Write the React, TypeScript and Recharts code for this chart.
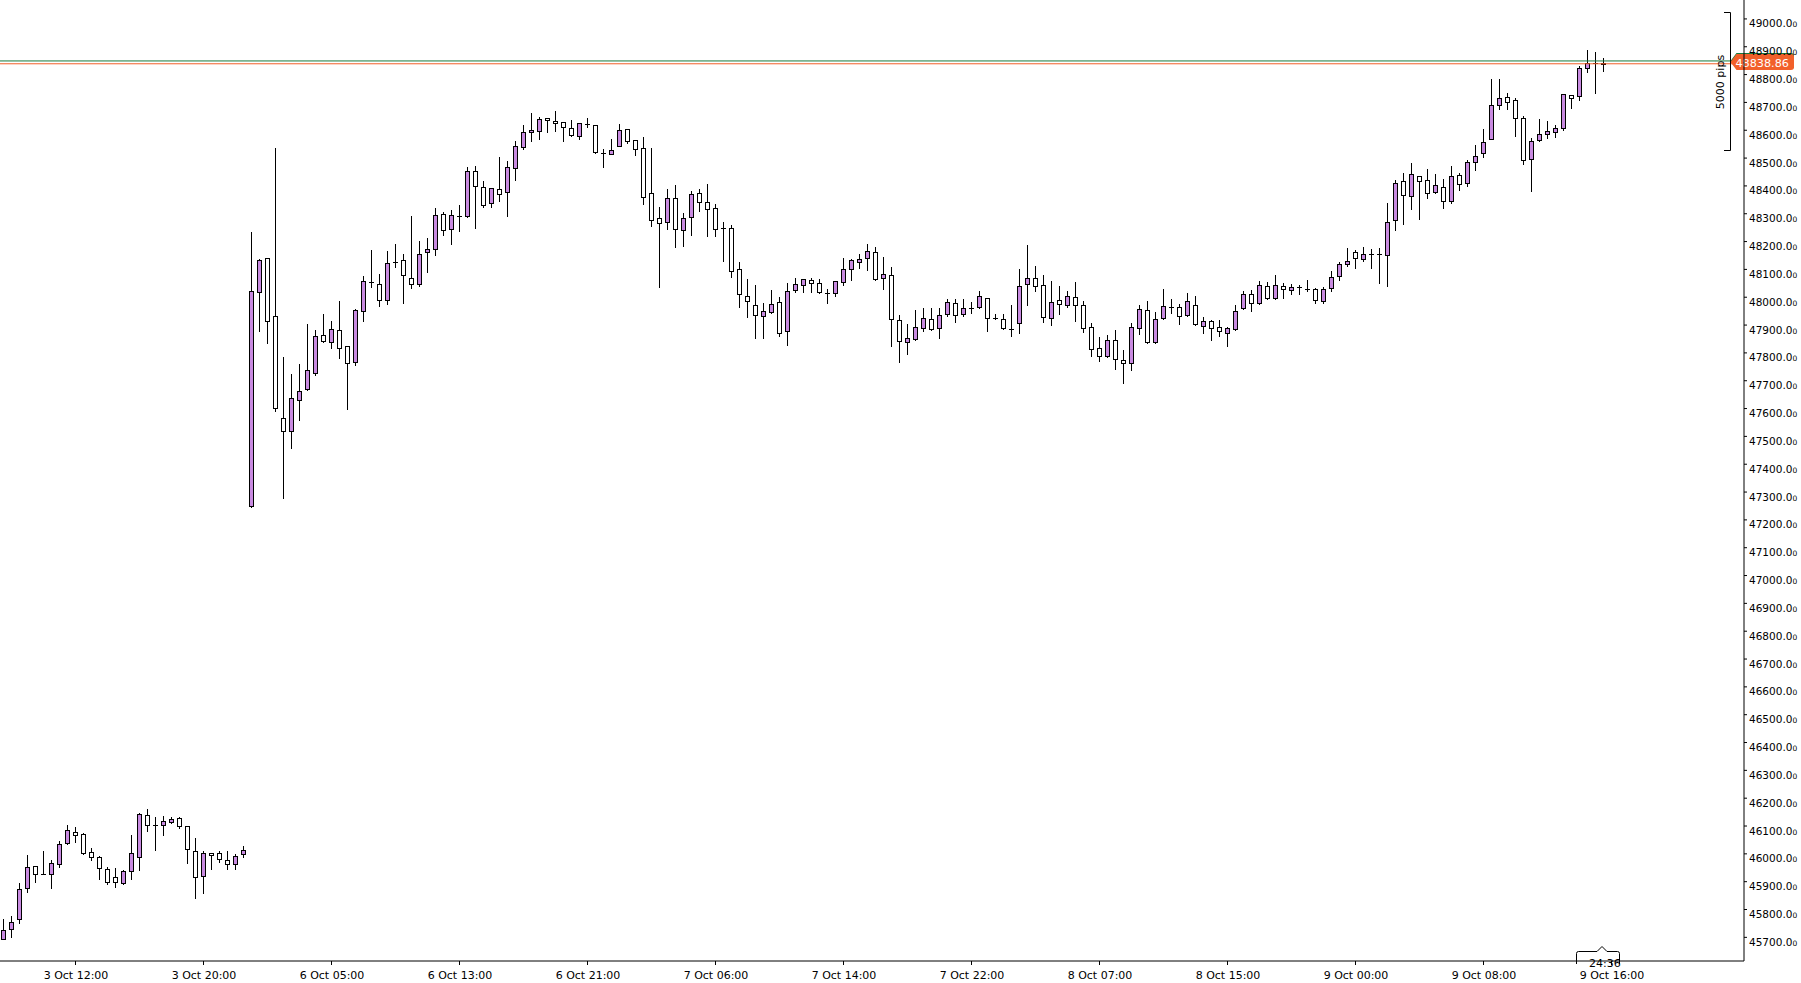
import { Bar, ComposedChart, ReferenceLine, XAxis, YAxis } from 'recharts'

const opens = [
  45695, 45729, 45765, 45876, 45955, 45927, 45927, 45964, 46038, 46078,
  46072, 46006, 45988, 45945, 45918, 45894, 45937, 45988, 46139, 46104,
  46103, 46116, 46128, 46099, 46012, 45919, 46002, 46003, 45977, 45963,
  45998, 47249, 48018, 48140, 47932, 47565, 47518, 47630, 47669, 47726,
  47863, 47838, 47881, 47824, 47766, 47950, 48054, 48047, 47989, 48126,
  48133, 48068, 48047, 48162, 48172, 48298, 48244, 48291, 48291, 48453,
  48395, 48338, 48388, 48377, 48463, 48539, 48593, 48596, 48643, 48632,
  48629, 48607, 48578, 48622, 48618, 48518, 48514, 48542, 48604, 48564,
  48535, 48374, 48284, 48269, 48356, 48241, 48287, 48374, 48341, 48320,
  48248, 48248, 48101, 48004, 47971, 47932, 47946, 47982, 47878, 48025,
  48043, 48061, 48050, 48014, 48014, 48054, 48101, 48126, 48140, 48162,
  48068, 48079, 47917, 47838, 47849, 47889, 47921, 47889, 47939, 47978,
  47939, 47960, 47964, 47996, 47924, 47921, 47885, 47906, 48047, 48068,
  48043, 47924, 47989, 47971, 48000, 47971, 47892, 47817, 47790, 47845,
  47774, 47763, 47889, 47953, 47838, 47925, 47964, 47964, 47935, 47971,
  47896, 47914, 47892, 47871, 47885, 47960, 48011, 47978, 48040, 47996,
  48040, 48025, 48036, 48029, 48029, 47988, 48032, 48075, 48119, 48162,
  48137, 48154, 48154, 48151, 48277, 48417, 48363, 48435, 48420, 48377,
  48395, 48344, 48438, 48410, 48485, 48517, 48570, 48690, 48719, 48708,
  48643, 48496, 48564, 48586, 48593, 48607, 48726, 48722, 48823, 48840, 48840,
]

const highs = [
  45765, 45777, 45894, 45995, 45958, 46010, 45978, 46046, 46104, 46097,
  46074, 46020, 45992, 45951, 45948, 45942, 46068, 46145, 46160, 46134,
  46136, 46134, 46131, 46100, 46056, 46012, 46004, 46012, 46010, 45998,
  46028, 48234, 48138, 48142, 48535, 47784, 47724, 47760, 47903, 47881,
  47939, 47914, 47986, 47826, 47957, 48078, 48168, 48084, 48166, 48192,
  48154, 48291, 48201, 48212, 48320, 48305, 48313, 48331, 48467, 48471,
  48417, 48393, 48503, 48489, 48560, 48618, 48661, 48647, 48645, 48668,
  48630, 48636, 48626, 48643, 48620, 48532, 48568, 48622, 48605, 48565,
  48575, 48535, 48323, 48388, 48402, 48302, 48381, 48388, 48406, 48334,
  48269, 48259, 48126, 48065, 48043, 47978, 48025, 48000, 48050, 48068,
  48065, 48068, 48065, 48029, 48058, 48140, 48136, 48154, 48190, 48180,
  48144, 48108, 47935, 47903, 47953, 47960, 47960, 47960, 47993, 47993,
  47993, 47982, 48021, 47998, 47939, 47939, 47971, 48101, 48187, 48111,
  48079, 48057, 48039, 48021, 48054, 47986, 47906, 47856, 47863, 47881,
  47810, 47907, 47971, 47986, 47946, 48029, 47993, 47975, 48014, 48004,
  47928, 47917, 47917, 47892, 47971, 48022, 48025, 48057, 48054, 48079,
  48050, 48047, 48043, 48061, 48033, 48035, 48093, 48126, 48176, 48169,
  48180, 48172, 48176, 48338, 48420, 48446, 48481, 48436, 48460, 48442,
  48424, 48471, 48445, 48492, 48546, 48604, 48783, 48783, 48733, 48715,
  48650, 48571, 48640, 48634, 48618, 48730, 48727, 48830, 48889, 48881, 48859,
]

const lows = [
  45693, 45703, 45753, 45864, 45900, 45926, 45879, 45954, 46034, 46042,
  46000, 45978, 45911, 45891, 45882, 45892, 45911, 45942, 46082, 46015,
  46069, 46110, 46094, 45966, 45843, 45858, 45945, 45971, 45945, 45945,
  45990, 47247, 47880, 47837, 47593, 47280, 47460, 47560, 47668, 47722,
  47838, 47819, 47783, 47598, 47758, 47916, 48035, 47970, 47975, 48108,
  47981, 48032, 48039, 48090, 48151, 48223, 48190, 48237, 48287, 48248,
  48323, 48323, 48345, 48291, 48420, 48532, 48560, 48568, 48593, 48596,
  48560, 48580, 48568, 48611, 48517, 48469, 48513, 48542, 48553, 48510,
  48334, 48255, 48036, 48244, 48180, 48183, 48223, 48309, 48219, 48219,
  48129, 48072, 47964, 47928, 47853, 47853, 47945, 47859, 47830, 48018,
  48018, 48018, 48017, 47978, 48004, 48043, 48061, 48104, 48097, 48061,
  48029, 47826, 47769, 47795, 47848, 47878, 47881, 47853, 47932, 47910,
  47932, 47942, 47960, 47878, 47921, 47885, 47860, 47871, 47971, 48021,
  47910, 47899, 47939, 47964, 47914, 47874, 47788, 47770, 47787, 47741,
  47691, 47738, 47867, 47837, 47837, 47923, 47943, 47903, 47932, 47902,
  47871, 47845, 47860, 47824, 47881, 47959, 47950, 47977, 47995, 47993,
  47996, 48011, 48011, 48022, 47978, 47980, 48022, 48061, 48111, 48104,
  48129, 48104, 48050, 48039, 48241, 48262, 48316, 48280, 48356, 48376,
  48320, 48340, 48384, 48399, 48456, 48503, 48568, 48675, 48675, 48581,
  48478, 48383, 48560, 48571, 48575, 48600, 48681, 48708, 48808, 48733, 48814,
]

const closes = [
  45727, 45754, 45873, 45952, 45927, 45927, 45966, 46034, 46085, 46067,
  46002, 45988, 45948, 45900, 45898, 45939, 46002, 46142, 46104, 46104,
  46119, 46127, 46101, 46016, 45916, 46002, 45995, 45981, 45963, 45994,
  46013, 48022, 48133, 47914, 47601, 47518, 47637, 47662, 47738, 47860,
  47842, 47885, 47817, 47763, 47953, 48057, 48054, 47989, 48122, 48126,
  48079, 48047, 48154, 48172, 48295, 48241, 48295, 48291, 48453, 48399,
  48331, 48392, 48370, 48467, 48543, 48593, 48600, 48640, 48636, 48625,
  48611, 48582, 48625, 48622, 48521, 48518, 48528, 48600, 48560, 48532,
  48359, 48277, 48266, 48356, 48244, 48284, 48370, 48341, 48316, 48244,
  48248, 48093, 48011, 47986, 47935, 47950, 47975, 47871, 48021, 48047,
  48065, 48050, 48018, 48014, 48057, 48101, 48133, 48136, 48165, 48065,
  48083, 47921, 47842, 47853, 47892, 47924, 47885, 47935, 47982, 47935,
  47960, 47960, 48004, 47924, 47924, 47889, 47885, 48039, 48068, 48039,
  47928, 47982, 47975, 48004, 47971, 47889, 47813, 47788, 47845, 47777,
  47763, 47892, 47957, 47838, 47921, 47968, 47964, 47932, 47986, 47903,
  47914, 47889, 47878, 47889, 47950, 48011, 47978, 48043, 47996, 48043,
  48029, 48036, 48036, 48029, 47990, 48029, 48072, 48119, 48129, 48140,
  48154, 48154, 48154, 48269, 48410, 48366, 48442, 48417, 48374, 48402,
  48345, 48435, 48406, 48485, 48507, 48557, 48690, 48715, 48701, 48643,
  48492, 48560, 48586, 48596, 48607, 48729, 48715, 48823, 48841, 48840, 48838.86,
]

const xTickIdx = [9, 25, 41, 57, 73, 89, 105, 121, 137, 153, 169, 185, 201]
const xTickLabels = [
  '3 Oct 12:00', '3 Oct 20:00', '6 Oct 05:00', '6 Oct 13:00', '6 Oct 21:00', '7 Oct 06:00',
  '7 Oct 14:00', '7 Oct 22:00', '8 Oct 07:00', '8 Oct 15:00', '9 Oct 00:00', '9 Oct 08:00',
  '9 Oct 16:00',
]

const priceTicks = [
  45700, 45800, 45900, 46000, 46100, 46200, 46300, 46400, 46500, 46600, 46700, 46800,
  46900, 47000, 47100, 47200, 47300, 47400, 47500, 47600, 47700, 47800, 47900, 48000,
  48100, 48200, 48300, 48400, 48500, 48600, 48700, 48800, 48900, 49000,
]

const bidPrice = 48838.86
const askPrice = 48849
const priceDomain = [45615, 49068]
const slotCount = 218

const FONT = '"DejaVu Sans", sans-serif'
const BULL = '#c88ae0'
const BID_COLOR = '#f2602a'
const ASK_COLOR = '#177a3c'

const rows = Array.from({ length: slotCount }, (_, i) =>
  i < opens.length
    ? { i, open: opens[i], high: highs[i], low: lows[i], close: closes[i] }
    : { i },
)

function Candle(props: any) {
  const { x, y, width, height, payload } = props
  if (!payload || payload.high == null) return <g />
  const { open, high, low, close } = payload
  const top = Math.min(y, y + height)
  const h = Math.abs(height)
  const span = high - low || 1
  const py = (v: number) => Math.round(top + ((high - v) / span) * h)
  const cx = Math.round(x + width / 2)
  const bodyTop = py(Math.max(open, close))
  const bodyBottom = py(Math.min(open, close))
  return (
    <g>
      <line x1={cx - 0.5} x2={cx - 0.5} y1={Math.round(top)} y2={Math.round(top + h) + 1} stroke="#000" />
      {bodyBottom - bodyTop < 1 ? (
        <line x1={cx - 3} x2={cx + 2} y1={bodyTop + 0.5} y2={bodyTop + 0.5} stroke="#000" />
      ) : (
        <rect
          x={cx - 2.5}
          y={bodyTop + 0.5}
          width={4}
          height={bodyBottom - bodyTop}
          fill={close > open ? BULL : '#fff'}
          stroke="#000"
        />
      )}
    </g>
  )
}

function TimeTick(props: any) {
  const { x, y, payload } = props
  const k = xTickIdx.indexOf(payload.value)
  if (k < 0) return <g />
  const tx = Math.round(x) - 0.5
  return (
    <g>
      <line x1={tx} x2={tx} y1={y} y2={y + 4} stroke="#000" />
      <text x={x} y={y + 17.5} textAnchor="middle" fontSize={11} fontFamily={FONT} fill="#000">
        {xTickLabels[k]}
      </text>
    </g>
  )
}

function PriceTick(props: any) {
  const { x, y, payload } = props
  return (
    <text x={x} y={y + 8.5} textAnchor="start" fontSize={10.5} fontFamily={FONT} fill="#000">
      <tspan>{payload.value.toFixed(1)}</tspan>
      <tspan fontSize={7.5}>0</tspan>
    </text>
  )
}

function PriceTag(props: any) {
  const { viewBox, fill, lift, text } = props
  if (!viewBox) return null
  const r = viewBox.x + viewBox.width
  const y = Math.round(viewBox.y)
  const t = y - lift
  const b = t + 16
  const d = `M${r - 13.5} ${t + 8} L${r - 7.5} ${t} H${r + 47} Q${r + 50} ${t} ${r + 50} ${t + 3} V${b - 3} Q${r + 50} ${b} ${r + 47} ${b} H${r - 7.5} Z`
  return (
    <g>
      <path d={d} fill={fill} />
      {text ? (
        <text x={r - 8.5} y={t + 12.5} fontSize={11.2} fontFamily={FONT} fill="#fff">
          {text}
        </text>
      ) : null}
    </g>
  )
}

export default function App() {
  return (
    <div style={{ position: 'absolute', left: 0, top: 0, width: 1801, height: 983, background: '#fff' }}>
      <ComposedChart width={1801} height={983} data={rows} margin={{ top: 0, right: 0, bottom: 0, left: 0 }}>
        <XAxis
          dataKey="i"
          type="category"
          interval={0}
          height={22}
          tickSize={0}
          tickMargin={0}
          tickLine={false}
          axisLine={{ stroke: '#000' }}
          tick={<TimeTick />}
        />
        <YAxis
          orientation="right"
          type="number"
          domain={priceDomain}
          allowDataOverflow
          ticks={priceTicks}
          interval={0}
          width={57}
          tickSize={3}
          tickMargin={2}
          axisLine={{ stroke: '#000' }}
          tickLine={{ stroke: '#000' }}
          tick={<PriceTick />}
        />
        <Bar
          dataKey={(d: any) => (d.high == null ? null : [d.low, d.high])}
          shape={(p: any) => <Candle {...p} />}
          isAnimationActive={false}
        />
        <ReferenceLine y={askPrice} stroke={ASK_COLOR} label={<PriceTag fill={ASK_COLOR} lift={8} />} />
        <ReferenceLine y={bidPrice} stroke={BID_COLOR} label={<PriceTag fill={BID_COLOR} lift={10} text={bidPrice.toFixed(2)} />} />
      </ComposedChart>
      <svg width={1801} height={983} style={{ position: 'absolute', left: 0, top: 0, pointerEvents: 'none' }}>
        <path d="M1724 12.5 H1730.5 V150.5 H1724" fill="none" stroke="#000" />
        <text x={1724} y={82} transform="rotate(-90 1724 82)" textAnchor="middle" fontSize={11} fontFamily={FONT} fill="#000">
          5000 pips
        </text>
        <path
          d="M1576.5 964 V953.5 Q1576.5 951.5 1578.5 951.5 H1597 L1602 946.5 L1607 951.5 H1617.5 Q1619.5 951.5 1619.5 953.5 V964"
          fill="none"
          stroke="#000"
        />
        <text x={1589} y={967} fontSize={11} fontFamily={FONT} fill="#000">
          24:36
        </text>
      </svg>
    </div>
  )
}
